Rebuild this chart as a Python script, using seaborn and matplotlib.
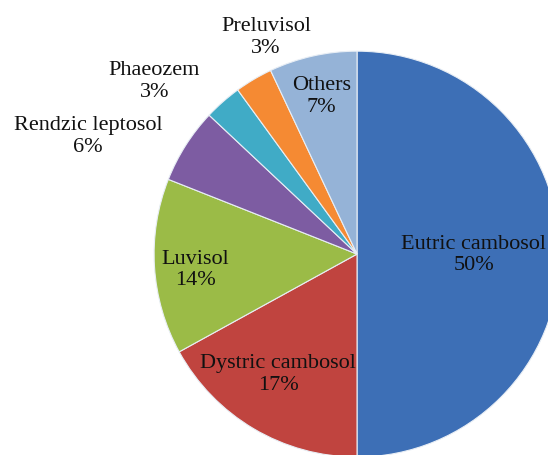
import numpy as np
import seaborn as sns
from matplotlib import pyplot as plt

sns.set_theme(style='white')
plt.rcParams['font.family'] = ['Liberation Serif', 'DejaVu Serif']

soils = ['Eutric cambosol', 'Dystric cambosol', 'Luvisol', 'Rendzic leptosol',
         'Phaeozem', 'Preluvisol', 'Others']
shares = [50, 17, 14, 6, 3, 3, 7]
colors = ['#3d6fb6', '#c0443f', '#9bbb47', '#7d5ca2', '#40abc6', '#f58a33', '#95b3d7']

# label placement: radial distance (pie radii), angle tweak (deg), alignment
label_dist = [0.575, 0.707, 0.80, 1.124, 1.153, 1.161, 0.80]
label_turn = [0.0, -2.8, 1.7, 1.1, 0.7, -7.9, 0.0]
label_ha = ['center', 'center', 'center', 'right', 'right', 'center', 'center']

fig = plt.figure(figsize=(5.48, 4.56), dpi=100)
ax = fig.add_axes([0.281, -0.0044, 0.741, 0.890])

wedges, _ = ax.pie(shares, colors=colors, startangle=90, counterclock=False,
                   wedgeprops=dict(edgecolor='#e8eef5', linewidth=0.8))
ax.set_xlim(-1, 1)
ax.set_ylim(-1, 1)
ax.set_aspect('equal')
ax.axis('off')

for w, name, val, d, t, ha in zip(wedges, soils, shares, label_dist, label_turn, label_ha):
    ang = np.deg2rad((w.theta1 + w.theta2) / 2 + t)
    x, y = d * np.cos(ang), d * np.sin(ang)
    ax.text(x, y, f'{name}\n{val}%', ha=ha, va='center', multialignment='center',
            fontsize=16, color='#111111', linespacing=1.2, clip_on=False)

plt.savefig('out.png', dpi=100)
